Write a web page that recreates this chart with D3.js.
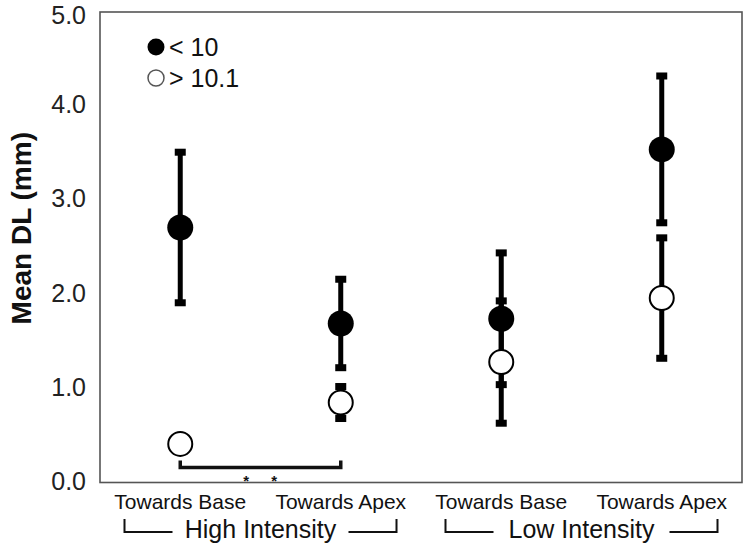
<!DOCTYPE html>
<html>
<head>
<meta charset="utf-8">
<script src="https://cdn.jsdelivr.net/npm/d3@7"></script>
<style>
  html, body { margin: 0; padding: 0; background: #fff; }
  svg { display: block; font-family: "Liberation Sans", Arial, Helvetica, sans-serif; }
</style>
</head>
<body>
<svg id="chart" width="750" height="551"></svg>
<script>
// ---- data ----
const categoryIds = ["HB", "HA", "LB", "LA"];
const categoryLabels = ["Towards Base", "Towards Apex", "Towards Base", "Towards Apex"];
const groupLabels = ["High Intensity", "Low Intensity"];
const groupMembers = [["HB", "HA"], ["LB", "LA"]];
const yTicks = [0, 1, 2, 3, 4, 5];
const seriesNames = ["< 10", "> 10.1"];
const lessThan10Mean = [2.71, 1.69, 1.74, 3.54];
const lessThan10Err  = [0.80, 0.47, 0.70, 0.78];
const over10Mean     = [0.41, 0.85, 1.28, 1.96];
const over10Err      = [0.00, 0.17, 0.65, 0.64];
const sigPair = ["HB", "HA"];
const sigMarks = ["*", "*"];

// ---- layout ----
const plot = { left: 100, right: 742, top: 12, bottom: 482.5 };
const svg = d3.select("#chart");

const x = d3.scalePoint().domain(categoryIds).range([plot.left, plot.right]).padding(0.5);
const y = d3.scaleLinear().domain([0, 5]).range([plot.bottom, plot.top]);

// frame
svg.append("rect")
  .attr("x", plot.left).attr("y", plot.top)
  .attr("width", plot.right - plot.left).attr("height", plot.bottom - plot.top)
  .attr("fill", "none").attr("stroke", "#555").attr("stroke-width", 1.6);

// y axis labels (no tick marks)
const yAxis = d3.axisLeft(y).tickValues(yTicks).tickFormat(d3.format(".1f")).tickSize(0).tickPadding(14);
const yg = svg.append("g").attr("transform", `translate(${plot.left},0)`).call(yAxis);
yg.select(".domain").remove();
yg.selectAll("text").attr("font-size", 25).attr("fill", "#222")
  .attr("font-family", "'Liberation Sans', Arial, sans-serif")
  .attr("dy", d => d === 5 ? "0.45em" : "0.27em");

// y title
svg.append("text")
  .attr("transform", `translate(31, ${(plot.top + plot.bottom) / 2 - 19}) rotate(-90)`)
  .attr("text-anchor", "middle")
  .attr("font-size", 28).attr("font-weight", "bold").attr("fill", "#111")
  .text("Mean DL (mm)");

// series assembly
const series = [
  { name: seriesNames[0], mean: lessThan10Mean, err: lessThan10Err, filled: true },
  { name: seriesNames[1], mean: over10Mean, err: over10Err, filled: false }
];

// error bars
series.forEach(s => {
  const g = svg.append("g");
  categoryIds.forEach((c, i) => {
    if (!s.err[i]) return;
    const cx = x(c);
    const lo = s.mean[i] - s.err[i], hi = s.mean[i] + s.err[i];
    g.append("line")
      .attr("x1", cx).attr("x2", cx).attr("y1", y(hi)).attr("y2", y(lo))
      .attr("stroke", "#000").attr("stroke-width", 5);
    [hi, lo].forEach(v => {
      g.append("rect")
        .attr("x", cx - 5.5).attr("y", y(v) - 3.5)
        .attr("width", 11).attr("height", 7).attr("fill", "#000");
    });
  });
});

// points
series.forEach(s => {
  svg.append("g").selectAll("circle")
    .data(categoryIds.map((c, i) => ({ c, v: s.mean[i] })))
    .join("circle")
    .attr("cx", d => x(d.c)).attr("cy", d => y(d.v))
    .attr("r", s.filled ? 13 : 12)
    .attr("fill", s.filled ? "#000" : "#fff")
    .attr("stroke", "#000").attr("stroke-width", s.filled ? 0 : 2);
});

// significance bracket
const bx1 = x(sigPair[0]), bx2 = x(sigPair[1]);
const by = 467.5;
svg.append("path")
  .attr("d", `M${bx1},${by - 7}V${by}H${bx2}V${by - 7}`)
  .attr("fill", "none").attr("stroke", "#111").attr("stroke-width", 3.5);
sigMarks.forEach((m, i) => {
  svg.append("text")
    .attr("x", bx1 + (bx2 - bx1) * (0.41 + i * 0.175)).attr("y", 486)
    .attr("text-anchor", "middle").attr("font-size", 15).attr("font-weight", "bold").attr("fill", "#111")
    .text(m);
});

// legend
const legend = svg.append("g");
series.forEach((s, i) => {
  const ly = 47 + i * 31;
  legend.append("circle")
    .attr("cx", 156).attr("cy", ly).attr("r", s.filled ? 8.5 : 8)
    .attr("fill", s.filled ? "#000" : "#fff")
    .attr("stroke", s.filled ? "#000" : "#555").attr("stroke-width", s.filled ? 0 : 1.5);
  legend.append("text")
    .attr("x", 169).attr("y", ly + 9)
    .attr("font-size", 25).attr("fill", "#111")
    .text(s.name);
});

// x category labels
svg.append("g").selectAll("text")
  .data(categoryIds)
  .join("text")
  .attr("x", d => x(d)).attr("y", 509)
  .attr("text-anchor", "middle").attr("font-size", 21).attr("fill", "#111")
  .text((d, i) => categoryLabels[i]);

// group labels with brackets
groupLabels.forEach((g, i) => {
  const [a, b] = groupMembers[i];
  const cx = (x(a) + x(b)) / 2;
  svg.append("text")
    .attr("x", cx).attr("y", 538)
    .attr("text-anchor", "middle").attr("font-size", 25).attr("fill", "#111")
    .text(g);
  const half = 136, inner = 88;
  const ly = 532;
  svg.append("path")
    .attr("d", `M${cx - half},${ly - 13}V${ly}H${cx - inner}`)
    .attr("fill", "none").attr("stroke", "#111").attr("stroke-width", 2);
  svg.append("path")
    .attr("d", `M${cx + inner},${ly}H${cx + half}V${ly - 13}`)
    .attr("fill", "none").attr("stroke", "#111").attr("stroke-width", 2);
});
</script>
</body>
</html>
